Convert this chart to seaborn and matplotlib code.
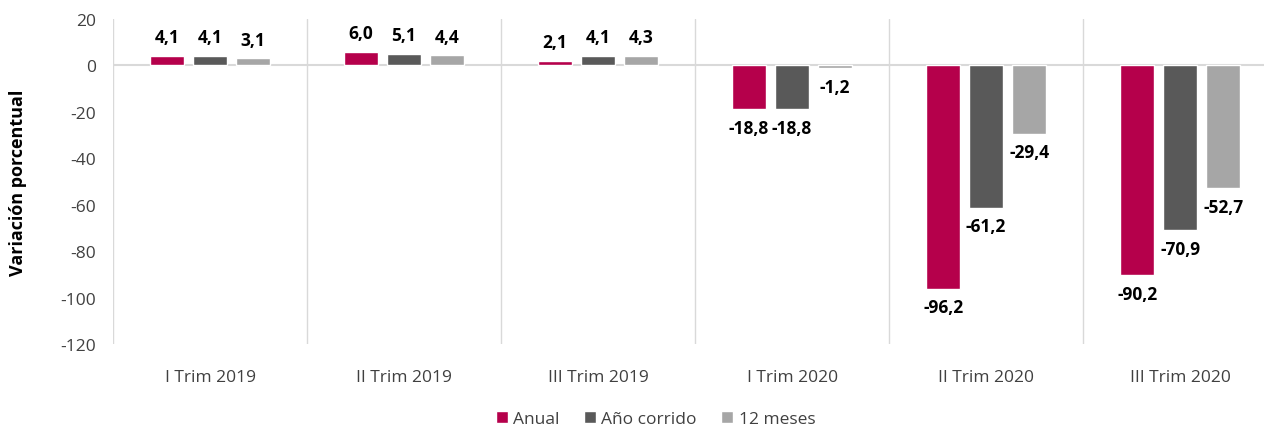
import pandas as pd
import matplotlib.pyplot as plt
import seaborn as sns

trimestres = ["I Trim 2019", "II Trim 2019", "III Trim 2019",
              "I Trim 2020", "II Trim 2020", "III Trim 2020"]
anual = [4.1, 6.0, 2.1, -18.8, -96.2, -90.2]
ano_corrido = [4.1, 5.1, 4.1, -18.8, -61.2, -70.9]
doce_meses = [3.1, 4.4, 4.3, -1.2, -29.4, -52.7]
series = ["Anual", "Año corrido", "12 meses"]
colores = ["#B5004B", "#595959", "#A6A6A6"]

# tabla larga para seaborn
df = pd.DataFrame({
    "trimestre": trimestres * 3,
    "serie": [s for s in series for _ in trimestres],
    "valor": anual + ano_corrido + doce_meses,
})

sns.set_style("white")
plt.rcParams["font.family"] = ["Open Sans", "DejaVu Sans"]
plt.rcParams["axes.unicode_minus"] = False

fig = plt.figure(figsize=(12.64, 4.27), dpi=100)
ax = fig.add_axes([0.0894, 0.192, 0.921, 0.761])

sns.barplot(data=df, x="trimestre", y="valor", hue="serie",
            palette=colores, hue_order=series, order=trimestres,
            width=0.665, gap=0.21, errorbar=None, saturation=1, ax=ax)

# etiquetas de datos con coma decimal
for cont in ax.containers:
    ax.bar_label(cont, fmt=lambda v: f"{v:.1f}".replace(".", ","),
                 padding=7, fontsize=12.5, fontweight="bold", color="black")

ax.set_ylim(-120, 20)
ax.set_xlim(-0.5, 5.5)
ax.set_yticks(range(-120, 21, 20))
ax.set_xticks([x + 0.5 for x in range(-1, 6)], minor=True)
ax.grid(False)
ax.grid(True, which="minor", axis="x", color="#D9D9D9", linewidth=1)
ax.axhline(0, color="#D9D9D9", linewidth=1.5, zorder=0)
for s in ax.spines.values():
    s.set_visible(False)

ax.tick_params(axis="both", which="both", length=0, labelsize=12.5, colors="#404040")
ax.tick_params(axis="x", which="major", pad=18)
ax.tick_params(axis="y", which="major", pad=12)
ax.set_xlabel("")
ax.set_ylabel("Variación porcentual", fontsize=13, fontweight="bold",
              color="black", labelpad=24)

ax.legend(loc="center", bbox_to_anchor=(0.466, -0.23), ncol=3,
          frameon=False, fontsize=12.5, handlelength=0.7, handleheight=0.7,
          handletextpad=0.3, columnspacing=1.4, labelcolor="#404040")

fig.savefig("out.png", dpi=100)
